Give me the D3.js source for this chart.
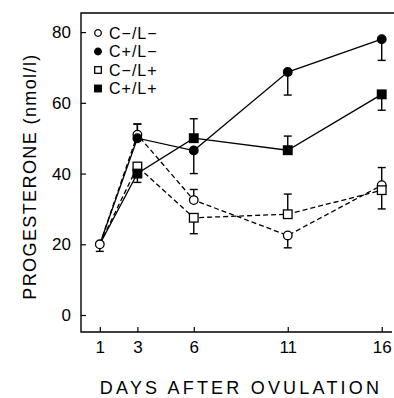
<!DOCTYPE html>
<html>
<head>
<meta charset="utf-8">
<script src="https://cdn.jsdelivr.net/npm/d3@7"></script>
<style>
  body { margin: 0; background: #fff; }
  svg { display: block; font-family: 'Liberation Sans', Arial, sans-serif; }
</style>
</head>
<body>
<svg></svg>
<script>
// data
const days = [3, 6, 11, 16]
const xTicks = [1, 3, 6, 11, 16]
const yTicks = [0, 20, 40, 60, 80]

// pooled day 1 value (all groups)
const day1Value = 20
const day1Err = -2

const seriesNames = ['C\u2212/L\u2212', 'C+/L\u2212', 'C\u2212/L+', 'C+/L+']
const cMinusLMinus = [51, 32.5, 22.5, 36.7]
const cPlusLMinus = [50, 46.5, 68.7, 78]
const cMinusLPlus = [42, 27.5, 28.5, 35.3]
const cPlusLPlus = [40, 50, 46.6, 62.4]
// signed error bars (+ up, - down), 0 = none drawn
const errCMinusLMinus = [3, 3, -3.5, 5]
const errCPlusLMinus = [4, -6.5, -6.5, -6]
const errCMinusLPlus = [0, -4.5, 5.7, -5.3]
const errCPlusLPlus = [-2.5, 5.5, 4, -4.5]

const series = [
  { name: seriesNames[0], values: cMinusLMinus, err: errCMinusLMinus, shape: 'circle', filled: false, dashed: true },
  { name: seriesNames[1], values: cPlusLMinus, err: errCPlusLMinus, shape: 'circle', filled: true, dashed: false },
  { name: seriesNames[2], values: cMinusLPlus, err: errCMinusLPlus, shape: 'square', filled: false, dashed: true },
  { name: seriesNames[3], values: cPlusLPlus, err: errCPlusLPlus, shape: 'square', filled: true, dashed: false }
]

const w = 394
const h = 398

const svg = d3.select('svg')
  .attr('width', w)
  .attr('height', h)

const x = d3.scaleLinear().domain([0, 16.6]).range([81, 393])
const y = d3.scaleLinear().domain([-4.8, 85.4]).range([332, 13])

// frame: left, bottom and top lines
svg.append('path')
  .attr('d', `M${w},${y(85.4)}H${x(0)}V${y(-4.8)}H${w - 2}`)
  .attr('fill', 'none')
  .attr('stroke', '#000')
  .attr('stroke-width', 1.4)

// y axis (ticks inward)
const yAxis = d3.axisRight(y).tickValues(yTicks).tickSize(5).tickFormat(d3.format('d'))
const gy = svg.append('g')
  .attr('transform', `translate(${x(0)},0)`)
  .call(yAxis)
gy.select('.domain').remove()
gy.selectAll('line').attr('stroke-width', 1.2)
gy.selectAll('text')
  .attr('x', -10)
  .attr('text-anchor', 'end')
  .style('font-size', '17px')
  .style('font-family', "'Liberation Sans', Arial, sans-serif")

// x axis (ticks inward)
const xAxis = d3.axisTop(x).tickValues(xTicks).tickSize(5)
const gx = svg.append('g')
  .attr('transform', `translate(0,${y(-4.8)})`)
  .call(xAxis)
gx.select('.domain').remove()
gx.selectAll('line').attr('stroke-width', 1.2)
gx.selectAll('text')
  .attr('y', 21)
  .attr('dy', 0)
  .style('font-size', '17px')
  .style('font-family', "'Liberation Sans', Arial, sans-serif")

// axis titles
svg.append('text')
  .attr('transform', `translate(36,${(y(85.4) + y(-4.8)) / 2 + 4})rotate(-90)`)
  .attr('text-anchor', 'middle')
  .style('font-size', '18px')
  .style('letter-spacing', '1.4px')
  .text('PROGESTERONE  (nmol/l)')

svg.append('text')
  .attr('x', 241)
  .attr('y', 394)
  .attr('text-anchor', 'middle')
  .style('font-size', '18px')
  .style('letter-spacing', '3.2px')
  .text('DAYS  AFTER  OVULATION')

// lines
const line = d3.line().x(d => x(d.day)).y(d => y(d.v))

series.forEach(s => {
  const pts = [{ day: 1, v: day1Value }].concat(days.map((d, i) => ({ day: d, v: s.values[i] })))
  svg.append('path')
    .datum(pts)
    .attr('d', line)
    .attr('fill', 'none')
    .attr('stroke', '#000')
    .attr('stroke-width', 1.3)
    .attr('stroke-dasharray', s.dashed ? '5,3' : null)
})

// error bars
const cap = 4
const drawErr = (day, v, e) => {
  if (!e) return
  const g = svg.append('g').attr('stroke', '#000').attr('stroke-width', 1.4)
  g.append('line')
    .attr('x1', x(day)).attr('x2', x(day))
    .attr('y1', y(v)).attr('y2', y(v + e))
  g.append('line')
    .attr('x1', x(day) - cap).attr('x2', x(day) + cap)
    .attr('y1', y(v + e)).attr('y2', y(v + e))
}

drawErr(1, day1Value, day1Err)
series.forEach(s => {
  days.forEach((d, i) => drawErr(d, s.values[i], s.err[i]))
})

// markers
const drawMarker = (sel, shape, filled, cx, cy, r) => {
  if (shape === 'circle') {
    sel.append('circle')
      .attr('cx', cx).attr('cy', cy).attr('r', r)
      .attr('fill', filled ? '#000' : '#fff')
      .attr('stroke', '#000').attr('stroke-width', 1.3)
  } else {
    sel.append('rect')
      .attr('x', cx - r).attr('y', cy - r)
      .attr('width', r * 2).attr('height', r * 2)
      .attr('fill', filled ? '#000' : '#fff')
      .attr('stroke', '#000').attr('stroke-width', 1.3)
  }
}

series.forEach(s => {
  days.forEach((d, i) => drawMarker(svg, s.shape, s.filled, x(d), y(s.values[i]), 4.3))
})
drawMarker(svg, 'circle', false, x(1), y(day1Value), 4.3)

// legend
const legend = svg.append('g').attr('transform', 'translate(98,33)')
series.forEach((s, i) => {
  const g = legend.append('g').attr('transform', `translate(0,${i * 18.5})`)
  drawMarker(g, s.shape, s.filled, 0, 0, 3.3)
  g.append('text')
    .attr('x', 11)
    .attr('y', 0)
    .attr('dy', '0.36em')
    .style('font-size', '16px')
    .style('letter-spacing', '1px')
    .text(s.name)
})
</script>
</body>
</html>
